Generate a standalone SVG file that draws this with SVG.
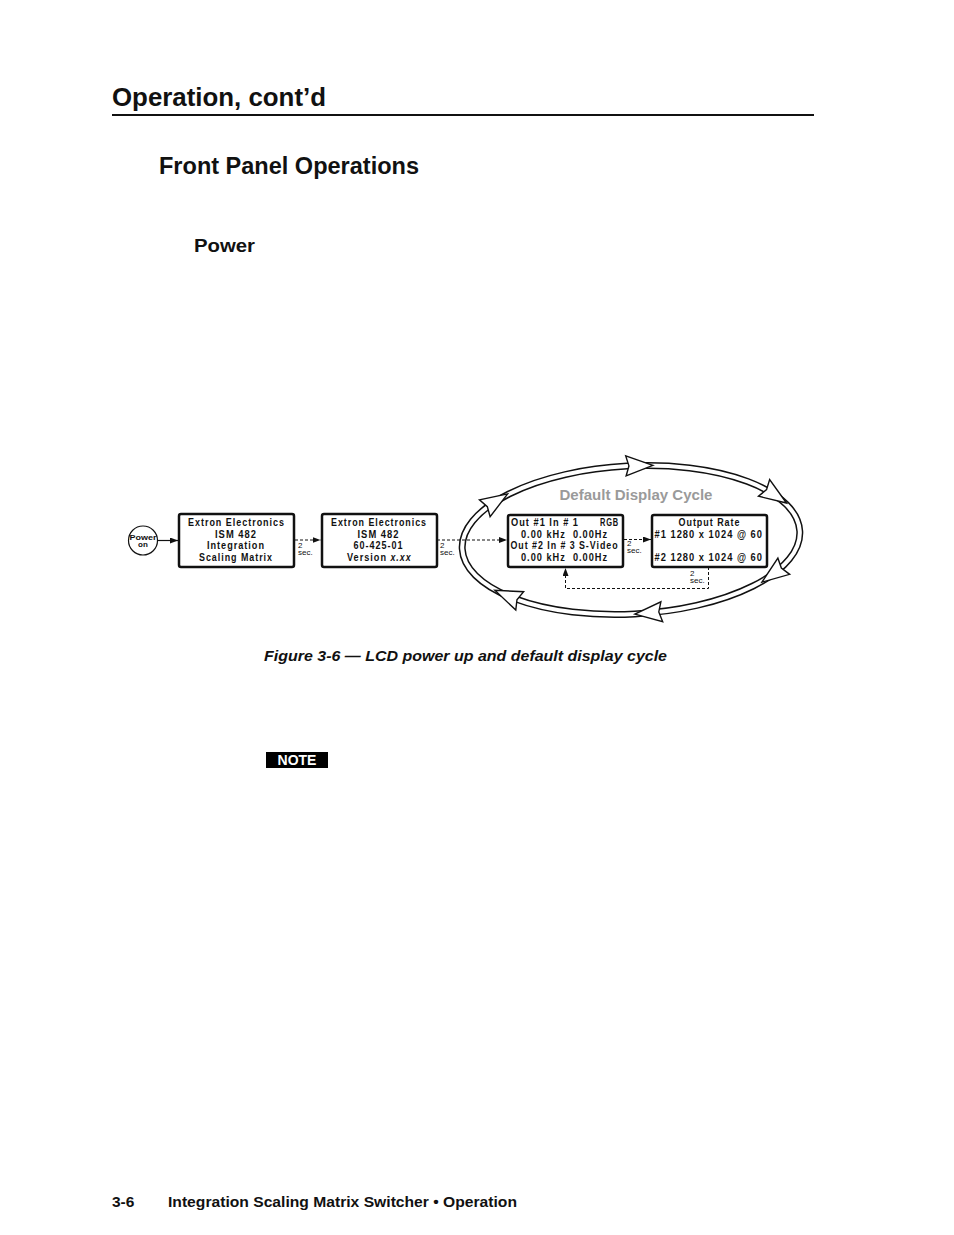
<svg xmlns="http://www.w3.org/2000/svg" width="954" height="1235" viewBox="0 0 954 1235">
<style>
.bg{fill:#fff}
.h{font-family:"Liberation Sans",Arial,sans-serif;font-weight:bold;fill:#111}
.box{fill:#fff;stroke:#111;stroke-width:2.5}
.lcd{font-family:"Liberation Sans Narrow","Liberation Sans",Arial,sans-serif;font-weight:bold;font-size:11px;letter-spacing:1.2px;fill:#111}
.sec{font-family:"Liberation Sans",Arial,sans-serif;font-size:8px;fill:#111}
.dash{fill:none;stroke:#111;stroke-width:1;stroke-dasharray:3 2}
.solid{fill:none;stroke:#111;stroke-width:1.2}
.bandO{fill:none;stroke:#111;stroke-width:7}
.bandI{fill:none;stroke:#fff;stroke-width:4}
.ah{fill:#fff;stroke:#111;stroke-width:1.4;stroke-linejoin:miter}
</style>
<defs>
<marker id="arr" viewBox="0 0 8 6" refX="8" refY="3" markerWidth="8" markerHeight="6" orient="auto" markerUnits="userSpaceOnUse">
<path d="M0,0 L8,3 L0,6 Z" fill="#111"/>
</marker>
<path id="head" d="M14,0 L-13,-10 L-10,0 L-13,10 Z"/>
</defs>
<rect class="bg" x="0" y="0" width="954" height="1235"/>

<g id="page-headings">
<text class="h" x="112" y="106" font-size="25.5" textLength="214" lengthAdjust="spacingAndGlyphs">Operation, cont’d</text>
<rect x="112" y="114" width="702" height="2" fill="#111"/>
<text class="h" x="159" y="174" font-size="23" textLength="260" lengthAdjust="spacingAndGlyphs">Front Panel Operations</text>
<text class="h" x="194" y="252" font-size="19" textLength="61" lengthAdjust="spacingAndGlyphs">Power</text>
</g>

<g id="cycle-ellipse" transform="translate(631,540) rotate(-3)">
<ellipse class="bandO" cx="0" cy="0" rx="169" ry="74"/>
<ellipse class="bandI" cx="0" cy="0" rx="169" ry="74"/>
<use href="#head" class="ah" transform="translate(11.8,-73.8) rotate(1.8)"/>
<use href="#head" class="ah" transform="translate(146,-37.2) rotate(36.9)"/>
<use href="#head" class="ah" transform="translate(140.3,41.3) rotate(146.9)"/>
<use href="#head" class="ah" transform="translate(14,73.7) rotate(177.9)"/>
<use href="#head" class="ah" transform="translate(-126,49.3) rotate(206.1)"/>
<use href="#head" class="ah" transform="translate(-133,-45.7) rotate(-29.2)"/>
</g>
<text id="cycle-label" x="636" y="500" text-anchor="middle" font-family="Liberation Sans,Arial,sans-serif" font-weight="bold" font-size="14.5" fill="#9a9a9a" textLength="153" lengthAdjust="spacingAndGlyphs">Default Display Cycle</text>

<g id="connectors">
<line class="solid" x1="157.5" y1="540.5" x2="178" y2="540.5" marker-end="url(#arr)"/>
<line class="dash" x1="295" y1="540" x2="320.5" y2="540" marker-end="url(#arr)"/>
<line class="dash" x1="437" y1="540" x2="507" y2="540" marker-end="url(#arr)"/>
<line class="dash" x1="624" y1="539.5" x2="651" y2="539.5" marker-end="url(#arr)"/>
<polyline class="dash" points="708.5,567 708.5,588.5 565.5,588.5 565.5,568" marker-end="url(#arr)"/>
<text class="sec" x="298" y="548">2</text>
<text class="sec" x="298" y="555">sec.</text>
<text class="sec" x="440" y="548">2</text>
<text class="sec" x="440" y="555">sec.</text>
<text class="sec" x="627" y="546">2</text>
<text class="sec" x="627" y="553">sec.</text>
<text class="sec" x="690" y="576">2</text>
<text class="sec" x="690" y="583">sec.</text>
</g>

<g id="power-on">
<circle cx="143" cy="540.5" r="14.5" fill="#fff" stroke="#111" stroke-width="1.2"/>
<text x="143" y="539.5" text-anchor="middle" font-family="Liberation Sans Narrow,Liberation Sans,Arial,sans-serif" font-weight="bold" font-size="8" fill="#111" textLength="27" lengthAdjust="spacingAndGlyphs">Power</text>
<text x="143" y="546.5" text-anchor="middle" font-family="Liberation Sans Narrow,Liberation Sans,Arial,sans-serif" font-weight="bold" font-size="8" fill="#111">on</text>
</g>

<g id="lcd-1">
<rect class="box" x="179" y="514" width="115" height="53" rx="2"/>
<text class="lcd" x="188" y="525.5" textLength="97" lengthAdjust="spacingAndGlyphs">Extron Electronics</text>
<text class="lcd" x="215" y="537.5" textLength="42" lengthAdjust="spacingAndGlyphs">ISM 482</text>
<text class="lcd" x="207" y="549" textLength="58" lengthAdjust="spacingAndGlyphs">Integration</text>
<text class="lcd" x="199" y="560.5" textLength="74" lengthAdjust="spacingAndGlyphs">Scaling Matrix</text>
</g>

<g id="lcd-2">
<rect class="box" x="322" y="514" width="115" height="53" rx="2"/>
<text class="lcd" x="331" y="525.5" textLength="96" lengthAdjust="spacingAndGlyphs">Extron Electronics</text>
<text class="lcd" x="357.5" y="537.5" textLength="42" lengthAdjust="spacingAndGlyphs">ISM 482</text>
<text class="lcd" x="353.5" y="549" textLength="50" lengthAdjust="spacingAndGlyphs">60-425-01</text>
<text class="lcd" x="347" y="560.5" textLength="40" lengthAdjust="spacingAndGlyphs">Version</text>
<text class="lcd" x="390.5" y="560.5" font-style="italic" textLength="21" lengthAdjust="spacingAndGlyphs">x.xx</text>
</g>

<g id="lcd-3">
<rect class="box" x="508" y="515" width="115" height="52" rx="2"/>
<text class="lcd" x="511" y="526" textLength="68" lengthAdjust="spacingAndGlyphs">Out #1 In # 1</text>
<text class="lcd" x="600" y="526" textLength="19" lengthAdjust="spacingAndGlyphs">RGB</text>
<text class="lcd" x="521" y="537.5" textLength="87" lengthAdjust="spacingAndGlyphs" xml:space="preserve">0.00 kHz  0.00Hz</text>
<text class="lcd" x="510.5" y="549" textLength="108" lengthAdjust="spacingAndGlyphs">Out #2 In # 3 S-Video</text>
<text class="lcd" x="521" y="560.5" textLength="87" lengthAdjust="spacingAndGlyphs" xml:space="preserve">0.00 kHz  0.00Hz</text>
</g>

<g id="lcd-4">
<rect class="box" x="652" y="515" width="115" height="52" rx="2"/>
<text class="lcd" x="678.5" y="526" textLength="62" lengthAdjust="spacingAndGlyphs">Output Rate</text>
<text class="lcd" x="654.5" y="537.5" textLength="108.5" lengthAdjust="spacingAndGlyphs">#1 1280 x 1024 @ 60</text>
<text class="lcd" x="654.5" y="560.5" textLength="108.5" lengthAdjust="spacingAndGlyphs">#2 1280 x 1024 @ 60</text>
</g>

<g id="caption">
<text x="264" y="661" font-family="Liberation Sans,Arial,sans-serif" font-weight="bold" font-style="italic" font-size="14.5" fill="#111" textLength="403" lengthAdjust="spacingAndGlyphs">Figure 3-6 — LCD power up and default display cycle</text>
</g>

<g id="note">
<rect x="266" y="752" width="62" height="16" fill="#000"/>
<text x="297" y="765" text-anchor="middle" font-family="Liberation Sans,Arial,sans-serif" font-weight="bold" font-size="14" fill="#fff">NOTE</text>
</g>

<g id="footer">
<text class="h" x="112" y="1207" font-size="15.5">3-6</text>
<text class="h" x="168" y="1207" font-size="15" textLength="349" lengthAdjust="spacingAndGlyphs">Integration Scaling Matrix Switcher • Operation</text>
</g>
</svg>
